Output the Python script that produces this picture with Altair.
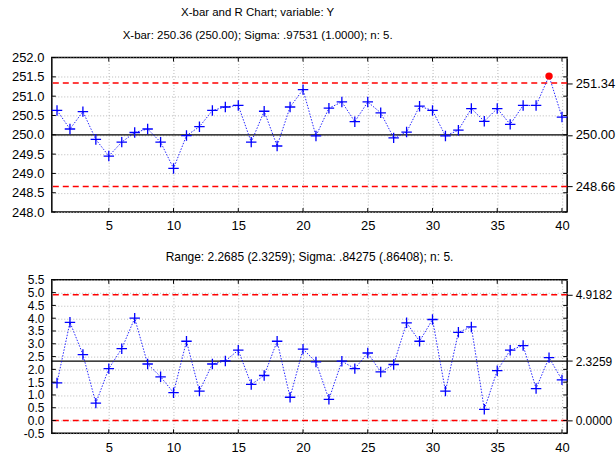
import altair as alt
import pandas as pd

# ---- data -------------------------------------------------------------
samples = list(range(1, 41))

xbar_values = [250.63, 250.15, 250.60, 249.88, 249.45, 249.81, 250.06, 250.15, 249.81, 249.13,
               249.98, 250.21, 250.63, 250.72, 250.76, 249.81, 250.61, 249.71, 250.72, 251.17,
               249.97, 250.69, 250.85, 250.34, 250.85, 250.57, 249.92, 250.07, 250.74, 250.63,
               249.97, 250.12, 250.68, 250.35, 250.68, 250.27, 250.76, 250.76, 251.52, 250.46]

range_values = [1.47, 3.84, 2.58, 0.68, 2.03, 2.81, 4.00, 2.21, 1.71, 1.09,
                3.10, 1.15, 2.21, 2.33, 2.75, 1.41, 1.76, 3.10, 0.91, 2.79,
                2.29, 0.83, 2.32, 2.03, 2.64, 1.90, 2.19, 3.82, 3.10, 3.95,
                1.15, 3.45, 3.66, 0.44, 1.95, 2.75, 2.93, 1.25, 2.46, 1.59]

# LCL, center line, UCL
xbar_limits = [248.66, 250.00, 251.34]
range_limits = [0.0, 2.3259, 4.9182]

xbar_title = ["X-bar and R Chart; variable:  Y",
              "X-bar: 250.36 (250.00); Sigma: .97531 (1.0000); n: 5."]
range_title = "Range: 2.2685 (2.3259); Sigma: .84275 (.86408); n: 5."

x_ticks = [5, 10, 15, 20, 25, 30, 35, 40]
xbar_ticks = [248.0, 248.5, 249.0, 249.5, 250.0, 250.5, 251.0, 251.5, 252.0]
range_ticks = [-0.5, 0.0, 0.5, 1.0, 1.5, 2.0, 2.5, 3.0, 3.5, 4.0, 4.5, 5.0, 5.5]

W = 517
FONT = "Liberation Sans"
CROSS = "M-1,0H1M0,-1V1"


def panel(values, limits, ticks, right_fmt, title, height, title_dx, title_size,
          title_offset, ylabel_size):
    lcl, center, ucl = limits
    df = pd.DataFrame({"sample": samples, "value": values})
    df["out"] = (df["value"] > ucl) | (df["value"] < lcl)
    lim_df = pd.DataFrame({"limit": limits, "kind": ["lcl", "center", "ucl"]})
    tick_df = pd.DataFrame({"t": ticks})
    xt_df = pd.DataFrame({"s": x_ticks})
    domain = [ticks[0], ticks[-1]]

    x_scale = alt.Scale(domain=[0.6, 40.4], nice=False, zero=False)
    x_axis = alt.Axis(values=x_ticks, title=None, ticks=False, domain=False,
                      labelPadding=8, grid=True, gridDash=[1, 2], gridColor="#b8b8b8",
                      labelFontSize=13, labelFont=FONT, labelColor="black",
                      labelOverlap=False)
    y_scale = alt.Scale(domain=domain, nice=False, zero=False)
    y_axis = alt.Axis(values=ticks, title=None, ticks=False, domain=False,
                      labelPadding=8, grid=True, gridDash=[1, 2], gridColor="#b8b8b8",
                      labelFontSize=ylabel_size, labelFont=FONT, labelColor="black",
                      labelOverlap=False,
                      labelExpr="datum.value < 0 ? '-' + format(-datum.value, '.1f') : format(datum.value, '.1f')")

    def X(field):
        return alt.X(f"{field}:Q", scale=x_scale, axis=x_axis)

    def Y(field):
        return alt.Y(f"{field}:Q", scale=y_scale, axis=y_axis)

    base = alt.Chart(df)

    ctrl = alt.Chart(lim_df).transform_filter("datum.kind != 'center'").mark_rule(
        color="#ff0000", strokeWidth=1.5, strokeDash=[6, 4]).encode(y=Y("limit"))
    cline = alt.Chart(lim_df).transform_filter("datum.kind == 'center'").mark_rule(
        color="black", strokeWidth=1.2).encode(y=Y("limit"))

    line = base.mark_line(color="#0000ff", strokeWidth=1, strokeDash=[1.5, 1.5],
                          opacity=0.85).encode(x=X("sample"), y=Y("value"))
    crosses = base.transform_filter("!datum.out").mark_point(
        shape=CROSS, size=110, filled=False, color="#0000ff", strokeWidth=1.3,
        opacity=1).encode(x=X("sample"), y=Y("value"))
    alarms = base.transform_filter("datum.out").mark_point(
        shape="circle", size=55, filled=True, color="#ff0000", opacity=1).encode(
        x=X("sample"), y=Y("value"))

    # short inward tick marks along the frame
    lt = alt.Chart(tick_df).mark_rule(color="black", strokeWidth=1).encode(
        y=Y("t"), x=alt.value(0), x2=alt.value(4))
    rt = alt.Chart(tick_df).mark_rule(color="black", strokeWidth=1).encode(
        y=Y("t"), x=alt.value(W - 4), x2=alt.value(W))
    bt = alt.Chart(xt_df).mark_rule(color="black", strokeWidth=1).encode(
        x=X("s"), y=alt.value(height - 4), y2=alt.value(height))
    tt = alt.Chart(xt_df).mark_rule(color="black", strokeWidth=1).encode(
        x=X("s"), y=alt.value(0), y2=alt.value(4))

    inner = alt.layer(ctrl, cline, line, crosses, alarms, lt, rt, bt, tt)

    right = alt.Chart(lim_df).mark_rule(opacity=0).encode(
        y=alt.Y("limit:Q", scale=y_scale,
                axis=alt.Axis(orient="right", values=limits, format=right_fmt, title=None,
                              grid=False, domain=False, ticks=True, tickSize=5,
                              tickColor="black", labelPadding=3, labelFontSize=ylabel_size,
                              labelFont=FONT, labelColor="black", labelOverlap=False)))

    return alt.layer(inner, right).resolve_scale(y="independent").properties(
        width=W, height=height,
        title=alt.TitleParams(text=title, fontSize=title_size, font=FONT,
                              fontWeight="normal", color="black", anchor="middle",
                              dx=title_dx, lineHeight=23, offset=title_offset))


top = panel(xbar_values, xbar_limits, xbar_ticks, ".2f", xbar_title, 155, -52, 11.5, 10, 13)
bottom = panel(range_values, range_limits, range_ticks, ".4f", range_title, 154, 0, 12, 10, 12)

chart = alt.vconcat(top, bottom, spacing=16).properties(
    padding={"left": 10, "top": 5, "right": 0, "bottom": 0},
    background="white",
).configure_view(stroke="black", strokeWidth=1.5)

chart.save("out.html", embed_options={"renderer": "svg", "actions": False})
